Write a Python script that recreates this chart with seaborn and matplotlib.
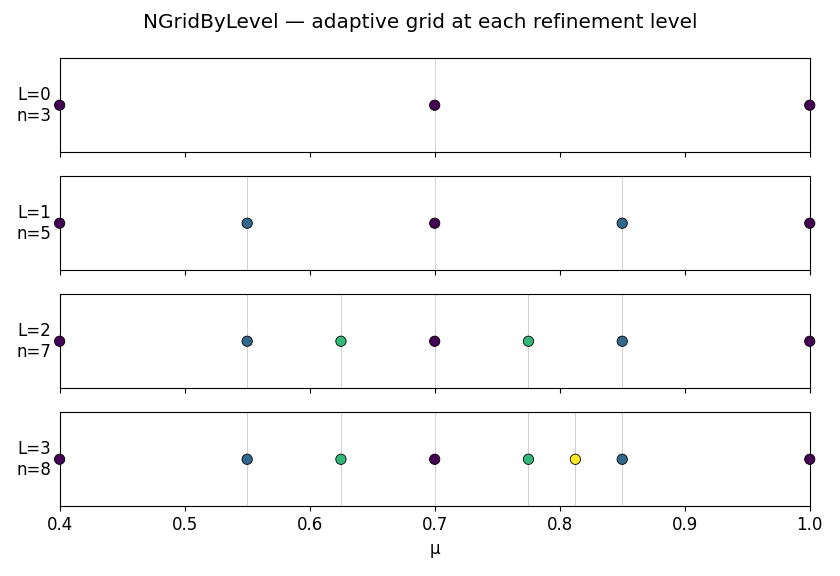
import numpy as np
import pandas as pd
import matplotlib
matplotlib.use("Agg")
import matplotlib.pyplot as plt
import seaborn as sns

# grid points and the level that introduced each one
levels = [0, 1, 2, 3]
mu_points = [0.4, 0.7, 1.0, 0.55, 0.85, 0.625, 0.775, 0.8125]
born_level = [0, 0, 0, 1, 1, 2, 2, 3]
points_per_level = [3, 5, 7, 8]

rows = []
for L in levels:
    for mu, b in zip(mu_points, born_level):
        if b <= L:
            rows.append({"level": L, "mu": mu, "born": b})
df = pd.DataFrame(rows)

cmap = plt.get_cmap("viridis")
palette = {b: cmap(b / 3) for b in levels}

fig, axes = plt.subplots(4, 1, figsize=(8.4, 5.76), dpi=100, sharex=True)
for ax, L, n in zip(axes, levels, points_per_level):
    sub = df[df["level"] == L]
    for mu in sub["mu"]:
        ax.axvline(mu, color="#d0d0d0", lw=0.7, zorder=0)
    sns.scatterplot(data=sub, x="mu", y=np.zeros(len(sub)), hue="born",
                    palette=palette, s=55, edgecolor="black", linewidth=0.6,
                    legend=False, ax=ax, zorder=3, clip_on=False)
    ax.set_yticks([])
    ax.set_ylim(-1, 1)
    ax.set_ylabel(f"L={L}\nn={n}", rotation=0, fontsize=12, labelpad=6,
                  ha="right", va="center")
    ax.set_xlabel("")

axes[-1].set_xlim(0.4, 1.0)
axes[-1].set_xticks([0.4, 0.5, 0.6, 0.7, 0.8, 0.9, 1.0])
axes[-1].tick_params(labelsize=12)
axes[-1].set_xlabel("μ", fontsize=12)
fig.suptitle("NGridByLevel — adaptive grid at each refinement level", fontsize=14.4, y=0.978)
fig.subplots_adjust(left=0.071, right=0.964, top=0.899, bottom=0.121, hspace=0.255)
fig.savefig("out.png")
